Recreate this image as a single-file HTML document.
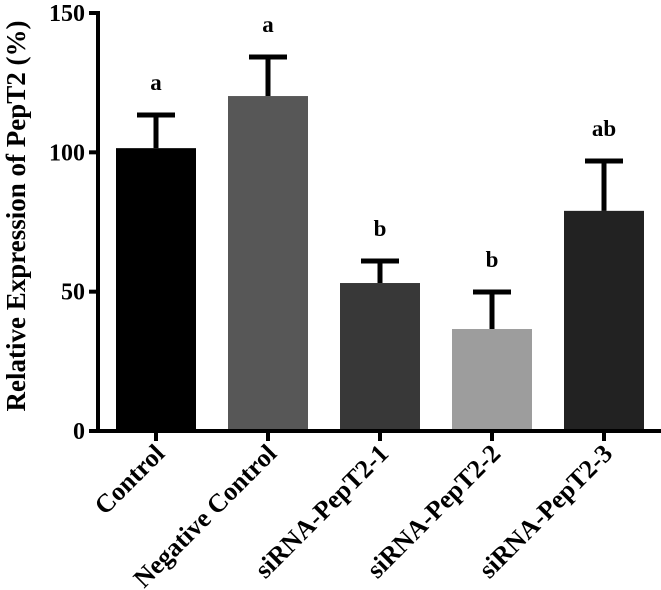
<!DOCTYPE html>
<html><head><meta charset="utf-8"><style>body{margin:0;background:#fff}svg{display:block}text{font-family:"Liberation Serif",serif;font-weight:bold}</style></head>
<body>
<svg id="chart" width="661" height="590"></svg>
<script>
const categories=["Control","Negative Control","siRNA-PepT2-1","siRNA-PepT2-2","siRNA-PepT2-3"];
const values=[101.5,120.2,53.1,36.6,79];
const errors=[11.9,14,7.9,13.3,17.9];
const letters=["a","a","b","b","ab"];
const colors=["#000000","#575757","#383838","#9d9d9d","#222222"];
const yTicks=[0,50,100,150];
const svg=document.getElementById('chart');
const NS="http://www.w3.org/2000/svg";
const y0=431,yTop=13,yMax=150;
function y(v){return y0-(v/yMax)*(y0-yTop);}
const x0=98,step=112,first=156,bw=80;
function xc(i){return first+i*step;}
function mk(t,a,p){const e=document.createElementNS(NS,t);for(const k in a)e.setAttribute(k,a[k]);(p||svg).appendChild(e);return e;}
categories.forEach((c,i)=>{
  const cx=xc(i);
  const r=mk('rect',{x:cx-bw/2,y:y(values[i]),width:bw,height:y0-y(values[i]),fill:colors[i]});
  
  
  const ey=y(values[i]+errors[i]);
  const g=mk('g',{stroke:'#000','stroke-width':5});
  
  
  mk('line',{x1:cx,x2:cx,y1:y(values[i]),y2:ey},g);
  mk('line',{x1:cx-19,x2:cx+19,y1:ey,y2:ey},g);
  const l=mk('text',{x:cx,y:ey-25,'text-anchor':'middle','font-size':23});
  l.textContent=letters[i];
  
  
  mk('line',{x1:cx,x2:cx,y1:y0,y2:y0+10,stroke:'#000','stroke-width':4});
  const t=mk('text',{x:cx+10,y:455,'text-anchor':'end','font-size':26,transform:`rotate(-45 ${cx+10} 455)`});
  t.textContent=c;
  
  
});
const ax=mk('g',{stroke:'#000','stroke-width':4});


mk('line',{x1:x0,x2:x0,y1:yTop-2,y2:y0+2},ax);
mk('line',{x1:x0-2,x2:661,y1:y0,y2:y0},ax);
yTicks.forEach(v=>{
  mk('line',{x1:x0-9,x2:x0,y1:y(v),y2:y(v),stroke:'#000','stroke-width':4});
  const t=mk('text',{x:85,y:y(v)+8,'text-anchor':'end','font-size':24});
  t.textContent=v;
  
  
});
const yt=mk('text',{x:0,y:0,'text-anchor':'middle','font-size':27,transform:'translate(25 216) rotate(-90)'});
yt.textContent="Relative Expression of PepT2 (%)";


</script>
</body></html>
